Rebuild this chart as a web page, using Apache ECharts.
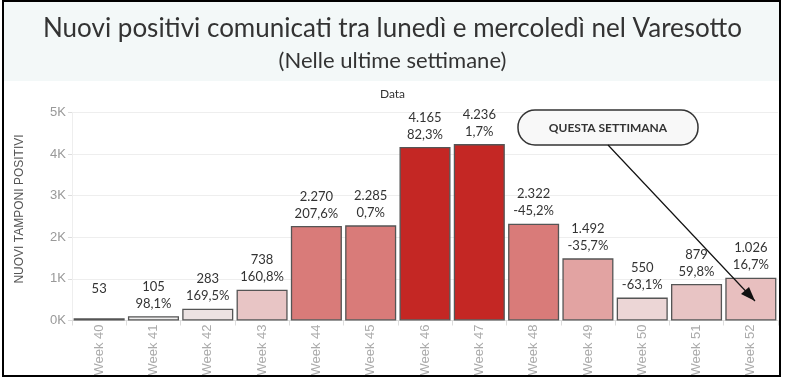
<!DOCTYPE html>
<html><head><meta charset="utf-8">
<script src="https://cdn.jsdelivr.net/npm/echarts@6/dist/echarts.min.js"></script>
<style>html,body{margin:0;padding:0;background:#fff}#c{width:785px;height:380px}</style>
</head><body><div id="c"></div>
<script>
const categories = ['Week 40','Week 41','Week 42','Week 43','Week 44','Week 45','Week 46','Week 47','Week 48','Week 49','Week 50','Week 51','Week 52'];
const values = [53,105,283,738,2270,2285,4165,4236,2322,1492,550,879,1026];
const pctChange = [null,'98,1%','169,5%','160,8%','207,6%','0,7%','82,3%','1,7%','-45,2%','-35,7%','-63,1%','59,8%','16,7%'];
const barColors = ['#eeeeee','#eeeded','#ece2e2','#e8c5c5','#d97b79','#d97b79','#c42724','#c42724','#d97b79','#e2a3a2','#ecd6d6','#e8c4c4','#e8bfbf'];
const yTicks = [0,1000,2000,3000,4000,5000];

const fmt = v => String(v).replace(/\B(?=(\d{3})+(?!\d))/g, '.');
const FONT = "Lato, 'Open Sans', sans-serif";
const SANS = "'Liberation Sans', Arial, sans-serif";

const chart = echarts.init(document.getElementById('c'), null, {renderer:'canvas'});
chart.setOption({
  animation:false,
  textStyle:{fontFamily:FONT},
  title:[
    {text:'Nuovi positivi comunicati tra lunedì e mercoledì nel Varesotto', left:'center', top:11,
     textStyle:{fontFamily:FONT, fontSize:26, fontWeight:'normal', color:'#333'}},
    {text:'(Nelle ultime settimane)', left:'center', top:45,
     textStyle:{fontFamily:FONT, fontSize:22, fontWeight:'normal', color:'#333'}},
    {text:'Data', left:'center', top:83, textStyle:{fontFamily:FONT, fontSize:12, fontWeight:'normal', color:'#333'}}
  ],
  grid:{left:72, right:7, top:112.3, bottom:59.5, containLabel:false},
  xAxis:{type:'category', data:categories,
    axisLine:{show:true, lineStyle:{color:'#ddd'}},
    axisTick:{show:true, length:5, lineStyle:{color:'#ddd'}},
    axisLabel:{rotate:90, color:'#aaa', fontSize:13, margin:4, fontFamily:SANS}},
  yAxis:{type:'value', min:yTicks[0], max:yTicks[yTicks.length-1], interval:1000,
    axisLine:{show:true, lineStyle:{color:'#eee'}},
    axisTick:{show:true, length:4, lineStyle:{color:'#ddd'}},
    axisLabel:{color:'#999', fontSize:13, margin:6, fontFamily:SANS, formatter:v=>(v/1000)+'K'},
    splitLine:{lineStyle:{color:'#eeeeee'}}},
  series:[{
    type:'bar', barCategoryGap:'6%',
    data: values.map((v,i)=>({value:v, itemStyle:{color:barColors[i]}})),
    itemStyle:{borderColor:'#555', borderWidth:1.3},
    label:{show:true, position:'top', distance:4, color:'#333', fontSize:13, lineHeight:17, fontFamily:FONT,
      formatter:p=> fmt(p.value) + '\n' + (pctChange[p.dataIndex] || ' ')}
  }],
  graphic:[
    {type:'rect', z:-10, shape:{x:3, y:2, width:777, height:79}, style:{fill:'#f3f8f8'}},
    {type:'rect', z:100, shape:{x:3, y:1, width:777, height:375}, style:{fill:'none', stroke:'#000', lineWidth:2}},
    {type:'text', z:10, x:20, y:209, rotation:Math.PI/2, style:{text:'NUOVI TAMPONI POSITIVI', font:"12px "+SANS, fill:'#555', align:'center', verticalAlign:'middle'}},
    {type:'rect', z:50, shape:{x:518, y:110, width:180, height:35, r:17}, style:{fill:'#f8f8f8', stroke:'#333', lineWidth:1.5}},
    {type:'text', z:51, x:608, y:128, style:{text:'QUESTA SETTIMANA', font:"bold 12px "+FONT, fill:'#333', align:'center', verticalAlign:'middle'}},
    {type:'line', z:52, shape:{x1:608, y1:145, x2:755, y2:301}, style:{stroke:'#111', lineWidth:1.2}},
    {type:'polygon', z:52, shape:{points:[[755,301],[741,294],[749,287]]}, style:{fill:'#111'}}
  ]
});
</script></body></html>
